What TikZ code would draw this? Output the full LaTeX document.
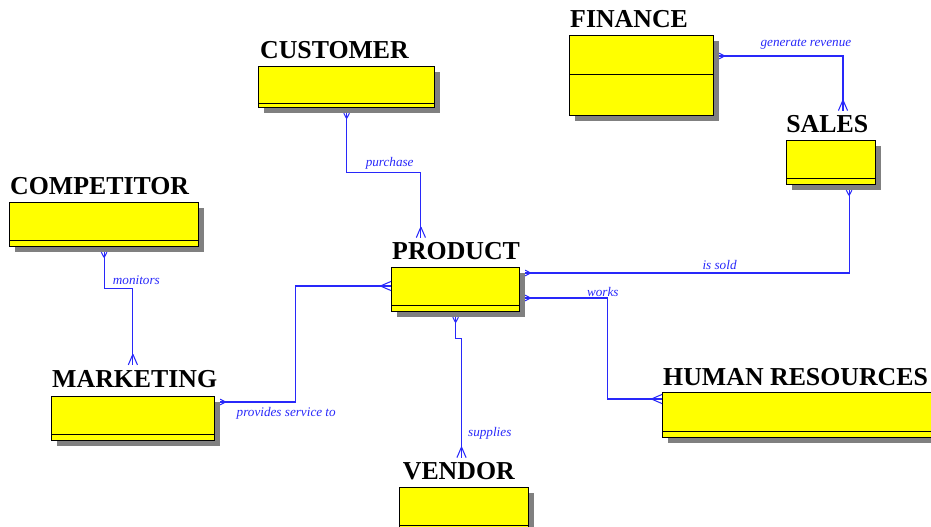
\documentclass[tikz,border=0pt]{standalone}
\usepackage{fontspec}
\setmainfont{Liberation Serif}
\usepackage{xcolor}
\usepackage{tikz}
\usetikzlibrary{shadows,calc,decorations.markings}
\definecolor{relblue}{RGB}{40,40,250}
\definecolor{boxyellow}{RGB}{255,255,0}

\begin{document}
\begin{tikzpicture}[x=0.02cm, y=-0.02cm,
entitynode/.style 2 args={rectangle, draw=black, line width=0.7pt, fill=boxyellow, inner sep=0pt, anchor=north west, minimum width=#1*0.02cm, minimum height=#2*0.02cm, general shadow={fill=black!50, shadow xshift=0.1cm, shadow yshift=-0.1cm}},
titlenode/.style={font=\bfseries\fontsize{14.7}{17}\selectfont, inner sep=0pt, outer ysep=3pt, anchor=base west},
relline/.style={draw=relblue, line width=0.6pt},
rellabel/.style={text=relblue, font=\itshape\fontsize{7.5}{9}\selectfont, inner sep=1.5pt},
crowfoot/.style={draw=relblue, line width=0.6pt},
one start/.style={postaction={decorate, decoration={markings, mark=at position 0 with {\draw[crowfoot] (3pt,0pt) -- (0pt,1.6pt) (3pt,0pt) -- (0pt,-1.6pt);}}}},
one end/.style={postaction={decorate, decoration={markings, mark=at position 1 with {\draw[crowfoot] (-3pt,0pt) -- (0pt,1.6pt) (-3pt,0pt) -- (0pt,-1.6pt);}}}},
many end/.style={postaction={decorate, decoration={markings, mark=at position 1 with {\draw[crowfoot] (-6pt,0pt) -- (0pt,2.6pt) (-6pt,0pt) -- (0pt,-2.6pt);}}}},
]
\useasboundingbox (0,0) rectangle (931,527);

%Nodes
\node[entitynode={176}{41}] (Customer) at (258,66) {};
\node[entitynode={144}{80}] (Finance) at (569,35) {};
\node[entitynode={89}{44}] (Sales) at (786,140) {};
\node[entitynode={189}{44}] (Competitor) at (9,202) {};
\node[entitynode={128}{44}] (Product) at (391,267) {};
\node[entitynode={163}{44}] (Marketing) at (51,396) {};
\node[entitynode={129}{44}] (Vendor) at (399,487) {};
\node[entitynode={280}{45}] (Human resources) at (662,392) {};

\foreach \n/\s in {Customer/4.5,Finance/42,Sales/6.5,Competitor/7,Product/7,Marketing/7,Vendor/7,Human resources/7}
  \draw[line width=0.7pt] ($(\n.south west)+(0,-\s)$) -- ($(\n.south east)+(0,-\s)$);

%Titles
\node[titlenode] (Customer title) at ([shift={(1pt,4.5pt)}]Customer.north west) {CUSTOMER};
\node[titlenode] (Finance title) at ([shift={(0.5pt,4pt)}]Finance.north west) {FINANCE};
\node[titlenode] (Sales title) at ([shift={(0pt,4pt)}]Sales.north west) {SALES};
\node[titlenode] (Competitor title) at ([shift={(0.5pt,4pt)}]Competitor.north west) {COMPETITOR};
\node[titlenode] (Product title) at ([shift={(0.5pt,4pt)}]Product.north west) {PRODUCT};
\node[titlenode] (Marketing title) at ([shift={(0.5pt,5pt)}]Marketing.north west) {MARKETING};
\node[titlenode] (Vendor title) at ([shift={(2pt,4pt)}]Vendor.north west) {VENDOR};
\node[titlenode] (Human resources title) at ([shift={(0.5pt,3.5pt)}]Human resources.north west) {HUMAN RESOURCES};

%Lines
\draw[relline, one start, many end] ($(Customer.south)+(0,5)$) -- ++(0,59) -| node[rellabel, pos=0.29, above]{purchase} ($(Product title.north west)+(29,0)$);
\draw[relline, one start, many end] ($(Finance.north east)+(5,21)$) -| node[rellabel, pos=0.35, above, yshift=2pt]{generate revenue} ($(Sales title.north west)+(57,0)$);
\draw[relline, one start, many end] ($(Competitor.south)+(0,5)$) -- ++(0,36) -| node[rellabel, pos=0.5, above, xshift=2pt]{monitors} ($(Marketing title.north west)+(81,0)$);
\draw[relline, one start, many end] ($(Marketing.north east)+(5,6)$) -- node[rellabel, pos=0.88, below, yshift=-1pt]{provides service to} ++(75,0) |- ($(Product.north west)+(0,19)$);
\draw[relline, one start, one end] ($(Product.north east)+(5,6)$) -| node[rellabel, pos=0.3, above]{is sold} ($(Sales.south)+(18,5)$);
\draw[relline, one start, many end] ($(Product.north east)+(5,31)$) -- node[rellabel, at end, anchor=base, xshift=-2.5pt, yshift=1pt]{works} ++(82,0) |- ($(Human resources.north west)+(0,7)$);
\draw[relline, one start, many end] ($(Product.south)+(0,5)$) -- ++(0,21) -| node[rellabel, pos=0.9, right=2pt]{supplies} ($(Vendor title.north west)+(59,0)$);
\end{tikzpicture}
\end{document}
